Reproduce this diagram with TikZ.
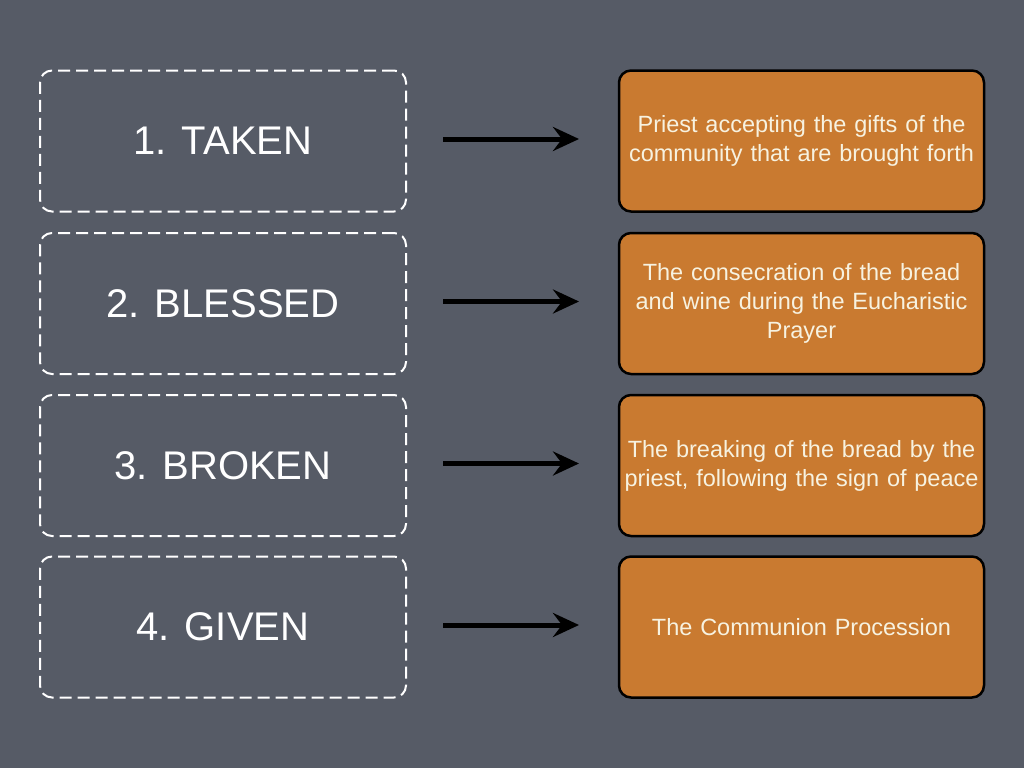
\documentclass[tikz,border=0pt]{standalone}
\usepackage{fontspec}
\setmainfont{Liberation Sans}
\usetikzlibrary{arrows.meta}
\definecolor{bg}{HTML}{565B66}
\definecolor{org}{HTML}{C97A30}
\definecolor{cream}{HTML}{F7F2E0}
\begin{document}
\begin{tikzpicture}[x=1pt,y=-1pt,
  lbox/.style={draw=white,line width=2pt,dash pattern=on 12pt off 6pt,rounded corners=12pt,minimum width=366pt,minimum height=141pt,inner sep=0pt},
  ltxt/.style={text=white,font=\fontsize{40}{44}\selectfont},
  rbox/.style={draw=black,line width=2.5pt,fill=org,rounded corners=12pt,minimum width=365pt,minimum height=141pt,text=cream,font=\fontsize{23.5}{29}\selectfont,align=center,text width=362pt,inner sep=0pt},
  arr/.style={line width=5pt,-{Stealth[length=26pt,width=24pt,inset=9pt]}}]
\fill[bg] (0,0) rectangle (1024,768);
\useasboundingbox (0,0) rectangle (1024,768);
\foreach \i/\y/\l/\r in {1/141/1. TAKEN/{Priest accepting the gifts of the\\community that are brought forth},
  2/303.5/2. BLESSED/{The consecration of the bread\\and wine during the Eucharistic\\Prayer},
  3/465.5/3. BROKEN/{The breaking of the bread by the\\priest, following the sign of peace},
  4/627/4. GIVEN/{The Communion Procession}}{
  \node[lbox] (l\i) at (223,\y) {};
  \node[ltxt] (lt\i) at (223,\y) {\l};
  \node[rbox] (r\i) at (801.5,\y) {\r};
  \coordinate (a\i) at (443,\y-2);
  \coordinate (b\i) at (579,\y-2);
  \draw[arr] (a\i) -- (b\i);
}
\end{tikzpicture}
\end{document}
